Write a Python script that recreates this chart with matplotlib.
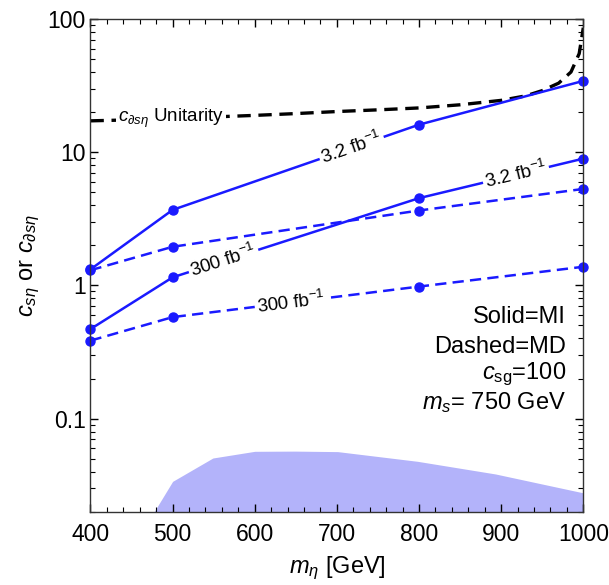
import numpy as np
import matplotlib
matplotlib.use('Agg')
import matplotlib.pyplot as plt
from matplotlib.ticker import MultipleLocator, LogLocator, NullFormatter

matplotlib.rcParams.update({'font.family': 'Liberation Sans', 'font.size': 16.5,
                            'mathtext.fontset': 'custom',
                            'mathtext.rm': 'Liberation Sans',
                            'mathtext.it': 'Liberation Sans:italic'})

# data
m_eta = [400, 500, 800, 1000]
mi_32 = [1.32, 3.69, 16.1, 34.3]
md_32 = [1.30, 1.95, 3.65, 5.3]
mi_300 = [0.47, 1.15, 4.52, 8.95]
md_300 = [0.385, 0.578, 0.98, 1.38]

unit_x = [400, 450, 500, 550, 600, 650, 700, 750, 800, 850, 900, 930, 950, 970, 985, 995, 1000]
unit_y = [17.2, 17.5, 17.9, 18.4, 18.9, 19.5, 20.2, 20.8, 21.5, 22.7, 24.5, 26.5, 29, 33, 40, 55, 86]

reg_x = [477.5, 500, 549, 600, 649, 701, 798, 893, 1000]
reg_y = [0.02, 0.0338, 0.0506, 0.0568, 0.0570, 0.0565, 0.0478, 0.0384, 0.0277]

blue = '#1a1aff'

fig = plt.figure(figsize=(6.09, 5.85), dpi=100)
ax = fig.add_axes([0.1486, 0.1253, 0.8092, 0.8422])
ax.set_yscale('log')
ax.set_xlim(400, 1000)
ax.set_ylim(0.02, 100)

ax.fill_between(reg_x, 0.02, reg_y, color='#b3b3fa', lw=0)
ax.plot(unit_x, unit_y, 'k--', lw=2.4, dashes=(4, 2.3))
ax.plot(m_eta, mi_32, '-o', color=blue, lw=1.8, ms=6.5, clip_on=False)
ax.plot(m_eta, mi_300, '-o', color=blue, lw=1.8, ms=6.5, clip_on=False)
ax.plot(m_eta, md_32, '--o', color=blue, lw=1.8, ms=6.5, dashes=(4.5, 2.5), clip_on=False)
ax.plot(m_eta, md_300, '--o', color=blue, lw=1.8, ms=6.5, dashes=(4.5, 2.5), clip_on=False)


def inline_label(x, xs, ys, txt, size=13.5):
    y = 10 ** np.interp(x, xs, np.log10(ys))
    i = np.searchsorted(xs, x) - 1
    p0 = ax.transData.transform((xs[i], ys[i]))
    p1 = ax.transData.transform((xs[i + 1], ys[i + 1]))
    ang = np.degrees(np.arctan2(p1[1] - p0[1], p1[0] - p0[0]))
    ax.text(x, y, txt, rotation=ang, rotation_mode='anchor', ha='center', va='center',
            fontsize=size, bbox=dict(fc='white', ec='none', pad=1.5), zorder=5)


inline_label(718, m_eta, mi_32, r'3.2 fb$^{-1}$')
inline_label(918, m_eta, mi_300, r'3.2 fb$^{-1}$')
inline_label(562, m_eta, mi_300, r'300 fb$^{-1}$')
inline_label(644, m_eta, md_300, r'300 fb$^{-1}$')
ax.text(498, 17.9, r'$c_{\partial s\eta}$ Unitarity', fontsize=13.5, ha='center', va='center',
        bbox=dict(fc='white', ec='none', pad=1.5), zorder=5)

ann = 17
ax.text(0.965, 0.395, 'Solid=MI', transform=ax.transAxes, ha='right', va='center', fontsize=ann)
ax.text(0.965, 0.335, 'Dashed=MD', transform=ax.transAxes, ha='right', va='center', fontsize=ann)
ax.text(0.965, 0.278, r'$c_{\rm sg}$=100', transform=ax.transAxes, ha='right', va='center', fontsize=ann)
ax.text(0.965, 0.221, r'$m_s$= 750 GeV', transform=ax.transAxes, ha='right', va='center', fontsize=ann)

ax.set_yticks([0.1, 1, 10, 100])
ax.set_yticklabels(['0.1', '1', '10', '100'])
ax.yaxis.set_minor_locator(LogLocator(base=10, subs=np.arange(2, 10)))
ax.yaxis.set_minor_formatter(NullFormatter())
ax.xaxis.set_major_locator(MultipleLocator(100))
ax.xaxis.set_minor_locator(MultipleLocator(20))
ax.tick_params(which='both', direction='in', top=True, right=True)
ax.tick_params(which='major', length=6, width=1)
ax.tick_params(which='minor', length=3.5, width=0.8)
ax.tick_params(axis='x', pad=8)
for s in ax.spines.values():
    s.set_linewidth(1)
    s.set_color('#333333')

ax.set_xlabel(r'$m_\eta$ [GeV]', fontsize=17, labelpad=6)
ax.set_ylabel(r'$c_{s\eta}$ or $c_{\partial s\eta}$', fontsize=17, labelpad=4)

fig.savefig('out.png', dpi=100)
